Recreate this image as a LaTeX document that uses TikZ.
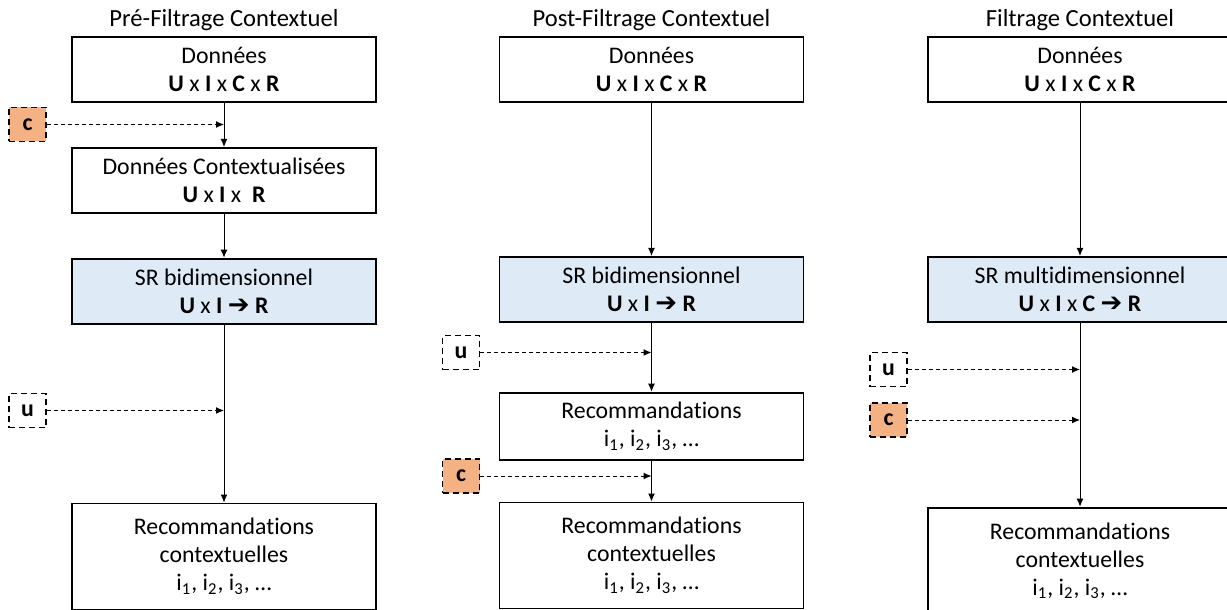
\documentclass[tikz,border=0pt]{standalone}
\usepackage{fontspec}
\setmainfont{Carlito}[Ligatures=NoCommon]
\newfontfamily\symfont{DejaVu Sans}
\usetikzlibrary{positioning, arrows.meta}
\definecolor{srblue}{HTML}{DEEBF7}
\definecolor{ctxorange}{HTML}{F4B183}
\newcommand{\darr}{{\symfont\fontsize{13}{14}\selectfont ➔}}
\newcommand{\ilist}{i\textsubscript{1}, i\textsubscript{2}, i\textsubscript{3}, …}

\begin{document}
\begin{tikzpicture}[x=0.5pt, y=-0.5pt,
    box/.style={draw, line width=0.9pt, minimum width=152pt, minimum height=32.5pt, align=center, inner sep=0pt, font=\fontsize{11.9}{14}\selectfont},
    srbox/.style={box, fill=srblue},
    recbox/.style={box, minimum height=53pt},
    ctxbox/.style={draw, dash pattern=on 3pt off 2pt, line width=0.9pt, minimum width=18.5pt, minimum height=17pt, inner sep=0pt, font=\fontsize{11.9}{14}\selectfont\bfseries},
    title/.style={inner sep=0pt, font=\fontsize{12.3}{14}\selectfont},
    flow/.style={-{Latex[length=4pt,width=3.5pt]}, line width=0.5pt},
    feed/.style={flow, dash pattern=on 2pt off 1.5pt}]
        \useasboundingbox (0,0) rectangle (1227,610);
        % Pre-filtrage
        \node[box] (d1) at (224,69.5) {Données\\ \textbf{U} x \textbf{I} x \textbf{C} x \textbf{R}};
        \node[title, above=2.7pt of d1] (t1) {Pré-Filtrage Contextuel};
        \node[box, below=22pt of d1] (dc1) {Données Contextualisées\\ \textbf{U} x \textbf{I} x~ \textbf{R}};
        \node[srbox, below=22pt of dc1] (sr1) {SR bidimensionnel\\ \textbf{U} x \textbf{I} \darr{} \textbf{R}};
        \node[recbox, below=89pt of sr1] (rc1) {Recommandations\\ contextuelles\\ \ilist};
        \node[ctxbox, fill=ctxorange] (c1) at (27.5,124.5) {c};
        \node[ctxbox] (u1) at (27.5,410.5) {u};
        \draw[flow] (d1) -- (dc1);
        \draw[flow] (dc1) -- (sr1);
        \draw[flow] (sr1) -- (rc1);
        \draw[feed] (c1) -- (c1 -| d1);
        \draw[feed] (u1) -- (u1 -| sr1);
        % Post-filtrage
        \node[box] (d2) at (651.5,69.5) {Données\\ \textbf{U} x \textbf{I} x \textbf{C} x \textbf{R}};
        \node[title, above=2.7pt of d2] (t2) {Post-Filtrage Contextuel};
        \node[srbox, below=76.5pt of d2] (sr2) {SR bidimensionnel\\ \textbf{U} x \textbf{I} \darr{} \textbf{R}};
        \node[box, below=34.5pt of sr2, minimum height=33.5pt] (r2) {Recommandations\\ \ilist};
        \node[recbox, below=20.5pt of r2] (rc2) {Recommandations\\ contextuelles\\ \ilist};
        \node[ctxbox] (u2) at (461,352.5) {u};
        \node[ctxbox, fill=ctxorange] (c2) at (461,476) {c};
        \draw[flow] (d2) -- (sr2);
        \draw[flow] (sr2) -- (r2);
        \draw[flow] (r2) -- (rc2);
        \draw[feed] (u2) -- (u2 -| sr2);
        \draw[feed] (c2) -- (c2 -| r2);
        % Filtrage
        \node[box] (d3) at (1080,69.5) {Données\\ \textbf{U} x \textbf{I} x \textbf{C} x \textbf{R}};
        \node[title, above=2.7pt of d3] (t3) {Filtrage Contextuel};
        \node[srbox, below=76.5pt of d3] (sr3) {SR multidimensionnel\\ \textbf{U} x \textbf{I} x \textbf{C} \darr{} \textbf{R}};
        \node[recbox, below=92pt of sr3] (rc3) {Recommandations\\ contextuelles\\ \ilist};
        \node[ctxbox] (u3) at (888.5,369.5) {u};
        \node[ctxbox, fill=ctxorange] (c3) at (888.5,420) {c};
        \draw[flow] (d3) -- (sr3);
        \draw[flow] (sr3) -- (rc3);
        \draw[feed] (u3) -- (u3 -| sr3);
        \draw[feed] (c3) -- (c3 -| sr3);
      \end{tikzpicture}
\end{document}
